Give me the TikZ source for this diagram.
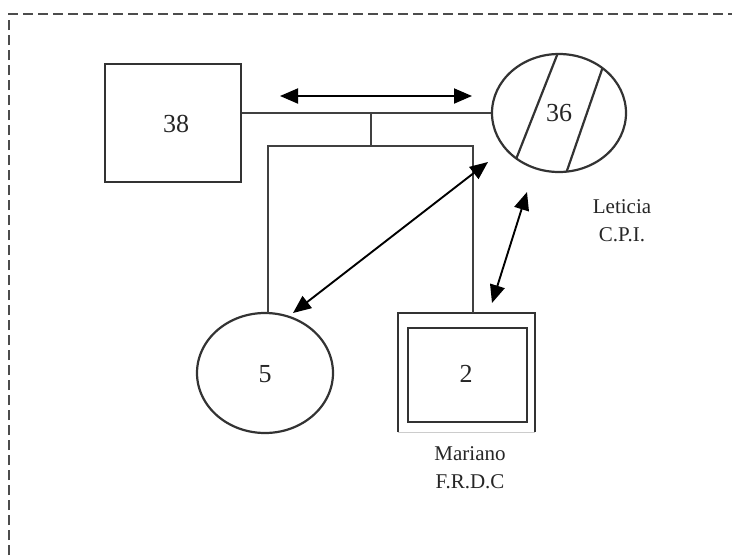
\documentclass[tikz,border=0pt]{standalone}
\usepackage{fontspec}
\setmainfont{Liberation Serif}
\usetikzlibrary{arrows.meta,shapes.geometric,calc}
\begin{document}
\begin{tikzpicture}[x=1pt,y=-1pt,
  line width=1.6pt,
  sym/.style={draw=black!80, line width=2.2pt, inner sep=0pt},
  num/.style={font=\fontsize{26}{26}\selectfont, text=black!85},
  lab/.style={font=\fontsize{21}{28}\selectfont, align=center, text=black!85},
  rel/.style={draw=black, line width=1.9pt, {Triangle[length=18pt,width=15pt]}-{Triangle[length=18pt,width=15pt]}},
  conn/.style={draw=black!75, line width=2.3pt}]
\useasboundingbox (0,0) rectangle (732,558);
% dashed frame
\draw[black!70, line width=2.4pt, dash pattern=on 10pt off 5pt] (9,570) -- (9,14) -- (745,14);
% nodes
\node[sym, rectangle, minimum width=136pt, minimum height=118pt] (n38) at (173,123) {};
\node[num] (t38) at (176,124) {38};
\node[sym, ellipse, minimum width=134pt, minimum height=118pt] (n36) at (559,113) {};
\begin{scope}
  \clip (559,113) ellipse [x radius=67pt, y radius=59pt];
  \draw[black!80, line width=2.2pt] (563,40) -- (511,172);
  \draw[black!80, line width=2.2pt] (607,55) -- (561,188);
\end{scope}
\node[num] (t36) at (559,113) {36};
\node[sym, ellipse, minimum width=136pt, minimum height=120pt] (n5) at (265,373) {};
\node[num] (t5) at (265,374) {5};
\node[sym, rectangle, minimum width=119pt, minimum height=94pt] (n2) at (467.5,375) {};
\node[num] (t2) at (466,374) {2};
\coordinate (o1) at (398,432);
\coordinate (o2) at (398,313);
\coordinate (o3) at (535,313);
\coordinate (o4) at (535,432);
\draw[black!80, line width=2.2pt] (o1) -- (o2) -- (o3) -- (o4);
\draw[black!20, line width=1pt] (o1) -- (o4);
\node[lab] (lm) at (470,468) {Mariano\\F.R.D.C};
\node[lab] (ll) at (622,221) {Leticia\\C.P.I.};
% genealogy lines
\coordinate (m1) at (371,114);
\coordinate (m2) at (371,146);
\coordinate (s1) at (268,146);
\coordinate (s2) at (473,146);
\coordinate (c1) at (268,313);
\coordinate (c2) at (473,313);
\draw[conn] (n36.west) -- (n36.west -| n38.east);
\draw[conn] (m1) -- (m2);
\draw[conn] (c1) -- (s1) -- (s2) -- (c2);
% relation arrows
\coordinate (a1) at (280,96);
\coordinate (a2) at (472,96);
\coordinate (d1) at (488,162);
\coordinate (d2) at (293,313);
\coordinate (r1) at (527,192);
\coordinate (r2) at (492,303);
\draw[rel] (a1) -- (a2);
\draw[rel] (d1) -- (d2);
\draw[rel] (r1) -- (r2);
\end{tikzpicture}
\end{document}
